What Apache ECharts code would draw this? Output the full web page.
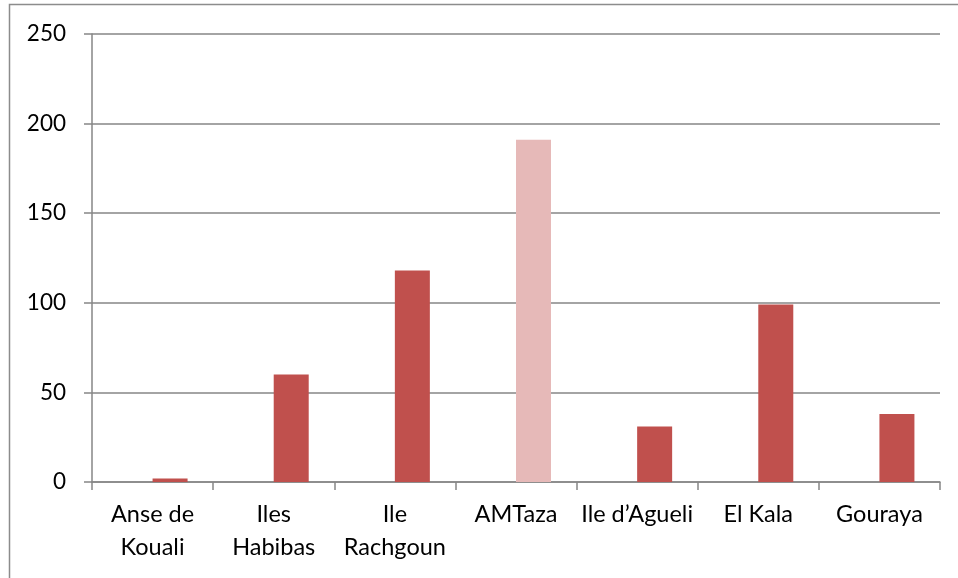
<!DOCTYPE html>
<html>
<head>
<meta charset="utf-8">
<script src="https://cdn.jsdelivr.net/npm/echarts@6/dist/echarts.min.js"></script>
<style>
html,body{margin:0;padding:0;background:#fff;}
#c{width:958px;height:578px;}
</style>
</head>
<body>
<div id="c"></div>
<script>
const categories = ["Anse de\nKouali", "Iles\nHabibas", "Ile\nRachgoun", "AMTaza", "Ile d\u2019Agueli", "El Kala", "Gouraya"];
const values = [2, 60, 118, 191, 31, 99, 38];
const emptySeriesValues = [];
const yTicks = [0, 50, 100, 150, 200, 250];

const mainColor = '#C0504D';
const lightColor = '#E6B9B8';
const highlighted = 'AMTaza';
const fontFamily = 'Lato, "Open Sans", sans-serif';

const chart = echarts.init(document.getElementById('c'), null, {renderer: 'canvas'});
chart.setOption({
  animation: false,
  backgroundColor: '#fff',
  graphic: [{
    type: 'rect',
    shape: {x: 9.5, y: 4.5, width: 1000, height: 700},
    style: {fill: 'none', stroke: '#8c8c8c', lineWidth: 1.5},
    silent: true
  }],
  grid: {left: 92, right: 18, top: 34, bottom: 96, containLabel: false},
  xAxis: {
    type: 'category',
    data: categories,
    axisLine: {show: true, lineStyle: {color: '#868686', width: 1.5}},
    axisTick: {show: true, length: 8, alignWithLabel: false, lineStyle: {color: '#868686', width: 1.5}},
    axisLabel: {interval: 0, color: '#000', fontSize: 23.5, fontFamily: fontFamily, lineHeight: 33, margin: 16}
  },
  yAxis: {
    type: 'value',
    min: yTicks[0],
    max: yTicks[yTicks.length - 1],
    interval: yTicks[1] - yTicks[0],
    axisLine: {show: true, lineStyle: {color: '#868686', width: 1.5}},
    axisTick: {show: true, length: 8, lineStyle: {color: '#868686', width: 1.5}},
    splitLine: {show: true, lineStyle: {color: '#868686', width: 1.5}},
    axisLabel: {color: '#000', fontSize: 22.5, fontFamily: fontFamily, margin: 26}
  },
  series: [{
    type: 'bar',
    barWidth: 35,
    barGap: '0%',
    data: emptySeriesValues
  }, {
    type: 'bar',
    barWidth: 35,
    barGap: '0%',
    data: values.map((v, i) => ({
      value: v,
      itemStyle: {color: categories[i] === highlighted ? lightColor : mainColor}
    }))
  }]
});
</script>
</body>
</html>
